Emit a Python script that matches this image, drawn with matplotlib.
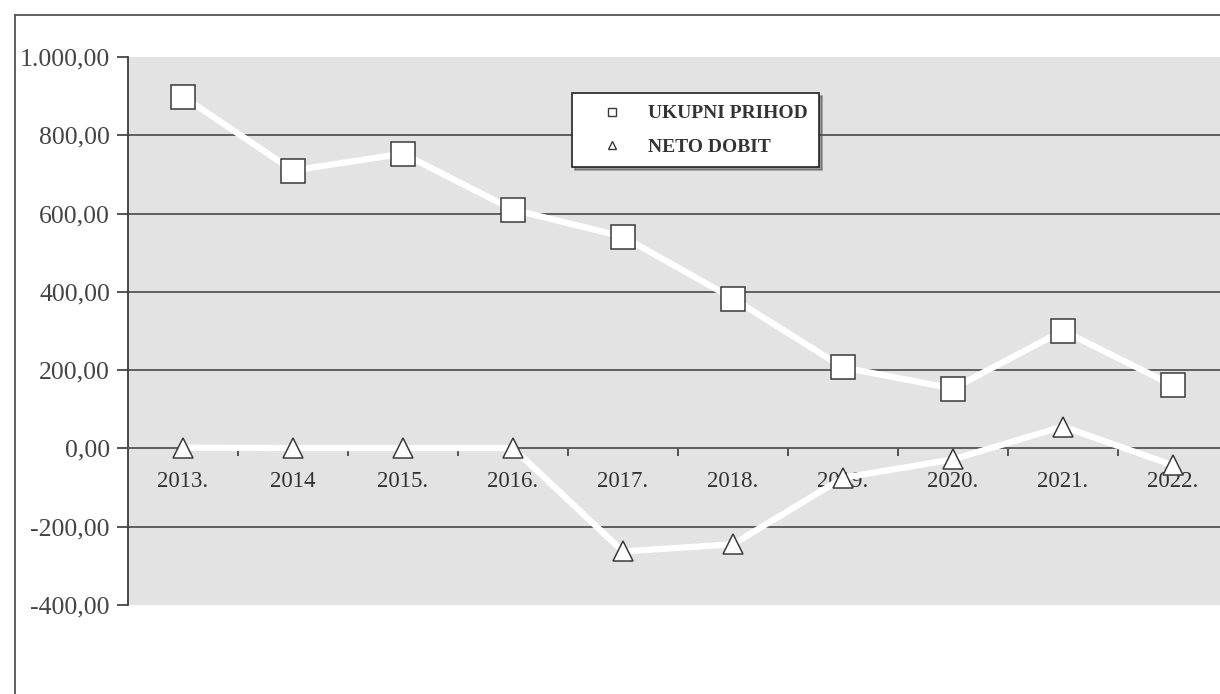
import matplotlib
matplotlib.use("Agg")
import matplotlib.pyplot as plt
from matplotlib.lines import Line2D
import numpy as np

# data
years = ["2013.", "2014", "2015.", "2016.", "2017.", "2018.", "2019.", "2020.", "2021.", "2022."]
ukupni_prihod = [899, 710, 753, 610, 541, 383, 207, 153, 301, 161]
neto_dobit = [2, 1, 1, 1, -263, -245, -75, -28, 56, -43]
y_ticks = [-400, -200, 0, 200, 400, 600, 800, 1000]
y_labels = ["-400,00", "-200,00", "0,00", "200,00", "400,00", "600,00", "800,00", "1.000,00"]

plt.rcParams['font.family'] = ['Liberation Serif', 'DejaVu Serif']
ink = "#3a3a3a"

fig = plt.figure(figsize=(12.2, 6.94), dpi=100)
ax = fig.add_axes([0.1049, 0.1282, 0.9016, 0.7897])
ax.set_facecolor("#e3e3e3")

x = np.arange(len(years))

for y in y_ticks[1:-1]:
    if y != 0:
        ax.axhline(y, color="#555555", lw=1.3, zorder=1)

ax.plot(x, ukupni_prihod, color="white", lw=4.5, marker="s", markersize=17,
        markerfacecolor="white", markeredgecolor=ink, markeredgewidth=1.1, zorder=4)
ax.plot(x, neto_dobit, color="white", lw=4.5, marker="^", markersize=14,
        markerfacecolor="white", markeredgecolor=ink, markeredgewidth=1.1, zorder=4)

ax.set_xlim(-0.5, len(years) - 0.5)
ax.set_ylim(-400, 1000)

ax.spines['top'].set_visible(False)
ax.spines['right'].set_visible(False)
ax.spines['bottom'].set_position(('data', 0))
ax.spines['bottom'].set_color("#555555")
ax.spines['bottom'].set_linewidth(1.3)
ax.spines['left'].set_color(ink)
ax.spines['left'].set_linewidth(1.3)

ax.set_yticks(y_ticks)
ax.set_yticklabels(y_labels, fontsize=18.5, color="#444444")
ax.tick_params(axis='y', length=8, width=1.2, color=ink, pad=5)

ax.set_xticks(x)
ax.set_xticklabels(years, fontsize=16.5, color="#333333")
ax.tick_params(axis='x', which='major', length=0, pad=16)
ax.set_xticks(x[:-1] + 0.5, minor=True)
ax.tick_params(axis='x', which='minor', length=6, width=1.2, color=ink, direction='out')

handles = [
    Line2D([], [], linestyle="none", marker="s", markersize=6, markerfacecolor="white",
           markeredgecolor=ink, markeredgewidth=1.0),
    Line2D([], [], linestyle="none", marker="^", markersize=6, markerfacecolor="white",
           markeredgecolor=ink, markeredgewidth=1.0),
]
leg = ax.legend(handles, ["UKUPNI PRIHOD", "NETO DOBIT"], loc="upper left",
                bbox_to_anchor=(0.4036, 0.934), frameon=True, fancybox=False, shadow=True,
                prop={'weight': 'bold', 'size': 14}, handletextpad=0.4, borderpad=0.6,
                labelspacing=0.8, handlelength=2.9, borderaxespad=0)
leg.get_frame().set_edgecolor("#222222")
leg.get_frame().set_linewidth(1.2)
leg.get_frame().set_facecolor("white")
leg.set_zorder(6)
for t in leg.get_texts():
    t.set_color("#333333")

# outer chart frame (top and left edges visible in the scan)
fig.add_artist(Line2D([15 / 1220, 1.0], [1 - 15 / 694, 1 - 15 / 694], color="#555555", lw=1.3))
fig.add_artist(Line2D([15 / 1220, 15 / 1220], [0, 1 - 15 / 694], color="#555555", lw=1.3))

fig.savefig("out.png", dpi=100, facecolor="white")
